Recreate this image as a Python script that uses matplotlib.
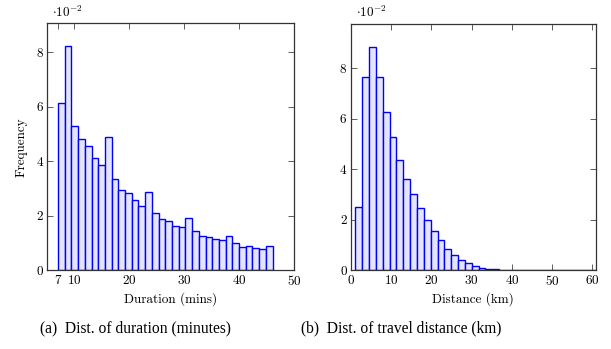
import numpy as np
import matplotlib
matplotlib.use("Agg")
import matplotlib.pyplot as plt
from matplotlib.ticker import FuncFormatter

plt.rcParams["font.family"] = ["cmr10", "DejaVu Serif"]
plt.rcParams["mathtext.fontset"] = "cm"
plt.rcParams["axes.unicode_minus"] = False
plt.rcParams["axes.formatter.use_mathtext"] = True

# ---- data ----
duration_bin_start = 7.0
duration_bin_width = 1.222
duration_freq = [0.0613, 0.0823, 0.0530, 0.0480, 0.0457, 0.0411, 0.0385, 0.0488,
                 0.0334, 0.0294, 0.0283, 0.0257, 0.0235, 0.0289, 0.0212, 0.0187,
                 0.0181, 0.0164, 0.0157, 0.0192, 0.0143, 0.0125, 0.0121, 0.0114,
                 0.0110, 0.0127, 0.0099, 0.0087, 0.0088, 0.0082, 0.0077, 0.0089]
duration_xticks = [7, 10, 20, 30, 40, 50]

distance_bin_start = 1.16
distance_bin_width = 1.70
distance_freq = [0.0250, 0.0765, 0.0884, 0.0763, 0.0625, 0.0526, 0.0435, 0.0361,
                 0.0300, 0.0246, 0.0199, 0.0155, 0.0120, 0.0086, 0.0059, 0.0041,
                 0.0028, 0.0017, 0.0011, 0.0007, 0.0004, 0.0003, 0.00015, 0.0001,
                 0.00005, 0.00003, 0.00002, 0.00001, 0.0, 0.0, 0.0, 0.0, 0.0, 0.0, 0.0]
distance_xticks = [0, 10, 20, 30, 40, 50, 60]
yticks = [0, 0.02, 0.04, 0.06, 0.08]

edge_color = "#0000ff"
fill_color = "#e4e4fb"

fig = plt.figure(figsize=(6.11, 3.49), dpi=100)

def hist(ax, start, width, freq):
    n = len(freq)
    lefts = start + width * np.arange(n)
    ax.bar(lefts, freq, width=width, align="edge", color=fill_color,
           edgecolor=edge_color, linewidth=1.0, zorder=2)

def style(ax, xticks, xlim, ylim):
    ax.set_xlim(*xlim)
    ax.set_ylim(*ylim)
    ax.set_xticks(xticks)
    ax.set_yticks(yticks)
    ax.yaxis.set_major_formatter(FuncFormatter(lambda v, p: f"{v*100:.0f}"))
    ax.tick_params(direction="in", length=4, width=0.6, top=True, right=True,
                   labelsize=9.5, pad=3, color="#444444")
    for s in ax.spines.values():
        s.set_linewidth(0.9)
        s.set_color("#333333")

ax1 = fig.add_axes([47 / 611, 1 - 270.3 / 349, (294 - 47) / 611, (270.3 - 23.3) / 349])
hist(ax1, duration_bin_start, duration_bin_width, duration_freq)
style(ax1, duration_xticks, (5, 50), (0, 0.0906))
ax1.set_xlabel("Duration (mins)", fontsize=9.5, labelpad=3)
ax1.set_ylabel("Frequency", fontsize=9.5, labelpad=6)
ax1.text(0.02, 1.015, r"$\cdot 10^{-2}$", transform=ax1.transAxes, fontsize=9.5,
         ha="left", va="bottom")

ax2 = fig.add_axes([350.7 / 611, 1 - 270.3 / 349, (596 - 350.7) / 611, (270.3 - 24) / 349])
hist(ax2, distance_bin_start, distance_bin_width, distance_freq)
style(ax2, distance_xticks, (0, 60.9), (0, 0.0974))
ax2.set_xlabel("Distance (km)", fontsize=9.5, labelpad=3)
ax2.text(0.02, 1.015, r"$\cdot 10^{-2}$", transform=ax2.transAxes, fontsize=9.5,
         ha="left", va="bottom")

fig.text(135 / 611, 1 - 328 / 349, "(a)  Dist. of duration (minutes)",
         family="Liberation Serif", fontsize=11.2, ha="center", va="center")
fig.text(401 / 611, 1 - 328 / 349, "(b)  Dist. of travel distance (km)",
         family="Liberation Serif", fontsize=11.2, ha="center", va="center")

fig.savefig("out.png", dpi=100)
